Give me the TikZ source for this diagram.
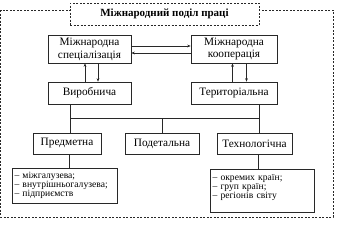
\documentclass[tikz,border=0pt]{standalone}
\usepackage{fontspec}
\setmainfont{Liberation Serif}
\usepackage{tikz}
\usetikzlibrary{arrows.meta}
\definecolor{inkline}{RGB}{40,40,40}

\begin{document}
\begin{tikzpicture}[x=1pt,y=-1pt,
  box/.style={draw=inkline, line width=0.6pt, inner sep=1pt, align=center,
    font=\fontsize{11.3}{12.8}\selectfont},
  listbox/.style={draw=inkline, line width=0.6pt, inner xsep=2.5pt, align=left,
    font=\fontsize{9.6}{9.2}\selectfont},
  frame/.style={draw=inkline, line width=0.6pt, dash pattern=on 2pt off 1.5pt},
  link/.style={draw=inkline, line width=0.6pt},
  arr/.style={link, -{Stealth[length=3.5pt,width=2.8pt]}}]
\useasboundingbox (0,0) rectangle (337,249);
% outer dashed frame with the title box on its top edge
\draw[frame] (0.8,10) rectangle (333,217);
\node[frame, fill=white, minimum width=189pt, minimum height=22pt,
  font=\fontsize{11}{12}\selectfont\bfseries] (title) at (164.5,14)
  {Міжнародний поділ праці};
% upper row
\node[box, minimum width=83pt, minimum height=28pt] (spec) at (89.5,49)
  {Міжнародна\\спеціалізація};
\node[box, minimum width=86pt, minimum height=28pt] (coop) at (234,49)
  {Міжнародна\\кооперація};
\node[box, minimum width=83pt, minimum height=22pt] (vyr) at (89.5,93)
  {Виробнича};
\node[box, minimum width=86pt, minimum height=22pt] (ter) at (234,93)
  {Територіальна};
% kinds of division
\node[box, minimum width=68pt, minimum height=21pt] (pred) at (67,143.5)
  {Предметна};
\node[box, minimum width=74pt, minimum height=21pt] (podet) at (162,143.5)
  {Подетальна};
\node[box, minimum width=75pt, minimum height=21pt] (tech) at (254.5,143.5)
  {Технологічна};
% lists
\node[listbox, text width=100pt, minimum height=35pt] (listL) at (64.5,185.5)
  {– міжгалузева;\\– внутрішньогалузева;\\– підприємств};
\node[listbox, text width=99pt, minimum height=43pt, text depth=27pt]
  (listR) at (262,190.5)
  {– окремих країн;\\– груп країн;\\– регіонів світу};
% arrows between the upper boxes
\draw[arr] ([yshift=3pt]spec.east) -- ([yshift=3pt]coop.west);
\draw[arr] ([yshift=-4pt]coop.west) -- ([yshift=-4pt]spec.east);
\draw[arr] ([xshift=-4.5pt]vyr.north) -- ([xshift=-4.5pt]spec.south);
\draw[arr] ([xshift=8.5pt]spec.south) -- ([xshift=8.5pt]vyr.north);
\draw[arr] ([xshift=-1.5pt]ter.north) -- ([xshift=-1.5pt]coop.south);
\draw[arr] ([xshift=12.5pt]coop.south) -- ([xshift=12.5pt]ter.north);
% tree of lines
\coordinate (busL) at (70,118);
\coordinate (busR) at (259,118);
\draw[link] ([xshift=-19.5pt]vyr.south) -- (busL) -- (busR)
  -- ([xshift=25pt]ter.south);
\draw[link] (busL) -- (busL |- pred.north);
\draw[link] (busR) -- (busR |- tech.north);
\draw[link] (podet.north) -- (podet.north |- busL);
\draw[link] ([xshift=2pt]pred.south) -- ([xshift=2pt]pred.south |- listL.north);
\draw[link] ([xshift=3.5pt]tech.south) -- ([xshift=3.5pt]tech.south |- listR.north);
\end{tikzpicture}
\end{document}
